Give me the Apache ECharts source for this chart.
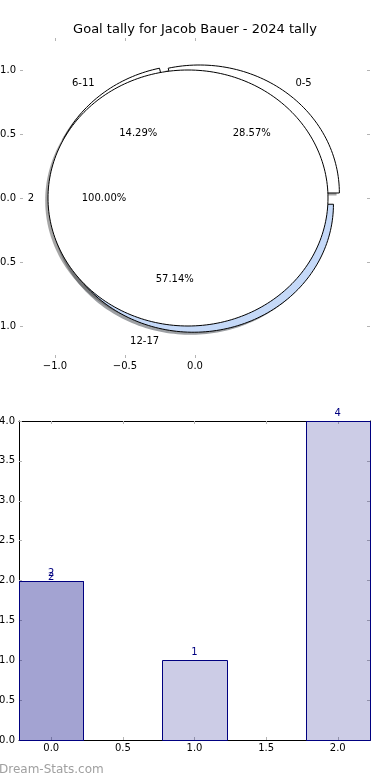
<!DOCTYPE html>
<html><head><meta charset="utf-8">
<script src="https://cdn.jsdelivr.net/npm/echarts@6/dist/echarts.min.js"></script>
<style>html,body{margin:0;padding:0;background:#fff}#c{width:390px;height:780px}</style>
</head><body><div id="c"></div>
<script>
const titleText = 'Goal tally for Jacob Bauer - 2024 tally';
const watermarkText = 'Dream-Stats.com';
const pieLabels = ['0-5', '6-11', '12-17'];
const pieValues = [2, 1, 4];
const innerLabels = ['2'];
const innerValues = [2];
const barX = [0, 1, 2];
const barValues = [2, 1, 4];
const bar2X = [0];
const bar2Values = [2];
const pieXTicks = [-1, -0.5, 0];
const pieYTicks = [-1, -0.5, 0, 0.5, 1];
const barXTicks = [0, 0.5, 1, 1.5, 2];

const FONT = 'DejaVu Sans';
const EXPLODE = 0.05, LABEL_DIST = 1.1, PCT_DIST = 0.6, SHADOW_OFF = -0.02;
const pieColors = [[255,255,255],[255,255,255],[197,217,248]];
const innerColors = [[255,255,255]];
const BAR_W = 0.45;
const TICK_COLOR = '#b4b4b4';
const HIDDEN_LINE = { show: true, onZero: false, lineStyle: { color: 'rgba(0,0,0,0)', width: 1 } };

function wedges(values, colors) {
  const total = values.reduce((a, b) => a + b, 0);
  let acc = 0;
  return values.map((v, i) => {
    const t1 = 360 * acc / total; acc += v; const t2 = 360 * acc / total;
    const tm = Math.PI * (t1 + t2) / 360;
    return { t1, t2, tm, cx: EXPLODE * Math.cos(tm), cy: EXPLODE * Math.sin(tm),
      pct: (100 * v / total).toFixed(2) + '%', color: colors[i % colors.length] };
  });
}
const outerW = wedges(pieValues, pieColors);
const innerW = wedges(innerValues, innerColors);
const allW = outerW.concat(innerW);
const allLabels = pieLabels.concat(innerLabels);

function wedgePoints(api, w, dx, dy) {
  const pts = [];
  const full = (w.t2 - w.t1) >= 359.999;
  if (!full) pts.push(api.coord([w.cx + dx, w.cy + dy]));
  const n = Math.max(10, Math.ceil((w.t2 - w.t1) / 1.5));
  for (let k = 0; k <= n; k++) {
    const a = (w.t1 + (w.t2 - w.t1) * k / n) * Math.PI / 180;
    pts.push(api.coord([w.cx + dx + Math.cos(a), w.cy + dy + Math.sin(a)]));
  }
  return pts;
}
function rgb(c) { return 'rgb(' + c.join(',') + ')'; }

function wedgeSeries(list, z) {
  return {
    type: 'custom', xAxisIndex: 0, yAxisIndex: 0, z: z, silent: true,
    data: list.map(() => [0, 0]),
    renderItem: function (params, api) {
      const w = list[params.dataIndex];
      return { type: 'polygon', shape: { points: wedgePoints(api, w, 0, 0) },
        style: { fill: rgb(w.color), stroke: '#000', lineWidth: 1 } };
    }
  };
}

const txt = { fontSize: 10, fontFamily: FONT, fill: '#000' };
const axisLabelStyle = { fontSize: 10, fontFamily: FONT, color: '#000' };
function fmt(v) { return v.toFixed(1).replace('-', '\u2212'); }

function tickAxis(extra) {
  return Object.assign({
    type: 'value', splitLine: { show: false },
    axisLine: HIDDEN_LINE,
    axisTick: { show: true, inside: true, length: 3, lineStyle: { color: TICK_COLOR, width: 1 } },
    axisLabel: { show: false }
  }, extra);
}

function barSeries(xs, vs, labelOff, z) {
  return {
    type: 'custom', xAxisIndex: 2, yAxisIndex: 2, z: z, silent: true,
    data: xs.map((x, i) => [x, vs[i]]),
    renderItem: function (params, api) {
      const x = api.value(0), v = api.value(1);
      const p0 = api.coord([x - BAR_W / 2, v]), p1 = api.coord([x + BAR_W / 2, 0]);
      const x0 = Math.round(p0[0]) + 0.5, x1 = Math.round(p1[0]) + 0.5;
      const y0 = Math.round(p0[1]) + 0.5, y1 = Math.round(p1[1]) + 0.5;
      return { type: 'group', children: [
        { type: 'rect', shape: { x: x0, y: y0, width: x1 - x0, height: y1 - y0 },
          style: { fill: 'rgba(0,0,128,0.2)', stroke: '#000080', lineWidth: 1 } },
        { type: 'text', x: (p0[0] + p1[0]) / 2, y: p0[1] - labelOff, z2: 10,
          style: { text: String(v), fontSize: 10, fontFamily: FONT, fill: '#000080', align: 'center', verticalAlign: 'bottom' } }
      ] };
    }
  };
}

const chart = echarts.init(document.getElementById('c'), null, { renderer: 'canvas' });
chart.setOption({
  animation: false,
  backgroundColor: '#ffffff',
  graphic: [
    { type: 'text', x: 195, y: 30, z: 10, style: { text: titleText, fontSize: 13, fontFamily: FONT, fill: '#000', align: 'center', verticalAlign: 'middle' } },
    { type: 'text', x: -1, y: 770, z: 10, style: { text: watermarkText, fontSize: 12, fontFamily: FONT, fill: '#a0a0a0', align: 'left', verticalAlign: 'middle' } }
  ],
  grid: [
    { left: 20, right: 20, top: 38, bottom: 422, outerBoundsMode: 'none', containLabel: false },
    { left: 19, right: 20, top: 421, bottom: 40, outerBoundsMode: 'none', containLabel: false }
  ],
  xAxis: [
    tickAxis({ gridIndex: 0, position: 'bottom', min: -1.25, max: 1.25,
      axisTick: { show: true, inside: true, length: 3, customValues: pieXTicks, lineStyle: { color: TICK_COLOR } },
      axisLabel: Object.assign({ show: true, margin: 3, customValues: pieXTicks, formatter: fmt }, axisLabelStyle) }),
    tickAxis({ gridIndex: 0, position: 'top', min: -1.25, max: 1.25,
      axisTick: { show: true, inside: true, length: 3, customValues: pieXTicks, lineStyle: { color: TICK_COLOR } } }),
    tickAxis({ gridIndex: 1, position: 'bottom', min: -0.225, max: 2.225,
      axisLine: { show: true, onZero: false, lineStyle: { color: '#000', width: 1 } },
      axisTick: { show: true, inside: true, length: 3, customValues: barXTicks, lineStyle: { color: TICK_COLOR } },
      axisLabel: Object.assign({ show: true, margin: 3, customValues: barXTicks, formatter: fmt }, axisLabelStyle) }),
    tickAxis({ gridIndex: 1, position: 'top', min: -0.225, max: 2.225,
      axisLine: { show: true, onZero: false, lineStyle: { color: '#000', width: 1 } },
      axisTick: { show: true, inside: true, length: 3, customValues: barXTicks, lineStyle: { color: TICK_COLOR } } })
  ],
  yAxis: [
    tickAxis({ gridIndex: 0, position: 'left', min: -1.25, max: 1.25,
      axisTick: { show: true, inside: true, length: 3, customValues: pieYTicks, lineStyle: { color: TICK_COLOR } },
      axisLabel: Object.assign({ show: true, margin: 4, customValues: pieYTicks, formatter: fmt }, axisLabelStyle) }),
    tickAxis({ gridIndex: 0, position: 'right', min: -1.25, max: 1.25,
      axisTick: { show: true, inside: true, length: 3, customValues: pieYTicks, lineStyle: { color: TICK_COLOR } } }),
    tickAxis({ gridIndex: 1, position: 'left', min: 0, max: 4, interval: 0.5,
      axisLine: { show: true, onZero: false, lineStyle: { color: '#000', width: 1 } },
      axisLabel: Object.assign({ show: true, margin: 4, formatter: fmt }, axisLabelStyle) }),
    tickAxis({ gridIndex: 1, position: 'right', min: 0, max: 4, interval: 0.5,
      axisLine: { show: true, onZero: false, lineStyle: { color: '#000', width: 1 } } })
  ],
  series: [
    {
      type: 'custom', xAxisIndex: 0, yAxisIndex: 0, z: 1, silent: true,
      data: allW.map(() => [0, 0]),
      renderItem: function (params, api) {
        const w = allW[params.dataIndex];
        const c = w.color.map(v => Math.round(v * 0.3));
        return { type: 'polygon', shape: { points: wedgePoints(api, w, SHADOW_OFF, SHADOW_OFF) },
          style: { fill: 'rgba(' + c.join(',') + ',0.5)', stroke: null } };
      }
    },
    wedgeSeries(outerW, 2),
    wedgeSeries(innerW, 3),
    {
      type: 'custom', xAxisIndex: 0, yAxisIndex: 0, z: 4, silent: true,
      data: allW.map(() => [0, 0]),
      renderItem: function (params, api) {
        const w = allW[params.dataIndex];
        const lx = w.cx + LABEL_DIST * Math.cos(w.tm), ly = w.cy + LABEL_DIST * Math.sin(w.tm);
        const px = w.cx + PCT_DIST * Math.cos(w.tm), py = w.cy + PCT_DIST * Math.sin(w.tm);
        const lp = api.coord([lx, ly]), pp = api.coord([px, py]);
        return { type: 'group', children: [
          { type: 'text', x: lp[0], y: lp[1], style: Object.assign({ text: allLabels[params.dataIndex], align: lx > 0 ? 'left' : 'right', verticalAlign: 'middle' }, txt) },
          { type: 'text', x: pp[0], y: pp[1], style: Object.assign({ text: w.pct, align: 'center', verticalAlign: 'middle' }, txt) }
        ] };
      }
    },
    barSeries(barX, barValues, 2.5, 5),
    barSeries(bar2X, bar2Values, -2, 6)
  ]
});
</script>
</body></html>
